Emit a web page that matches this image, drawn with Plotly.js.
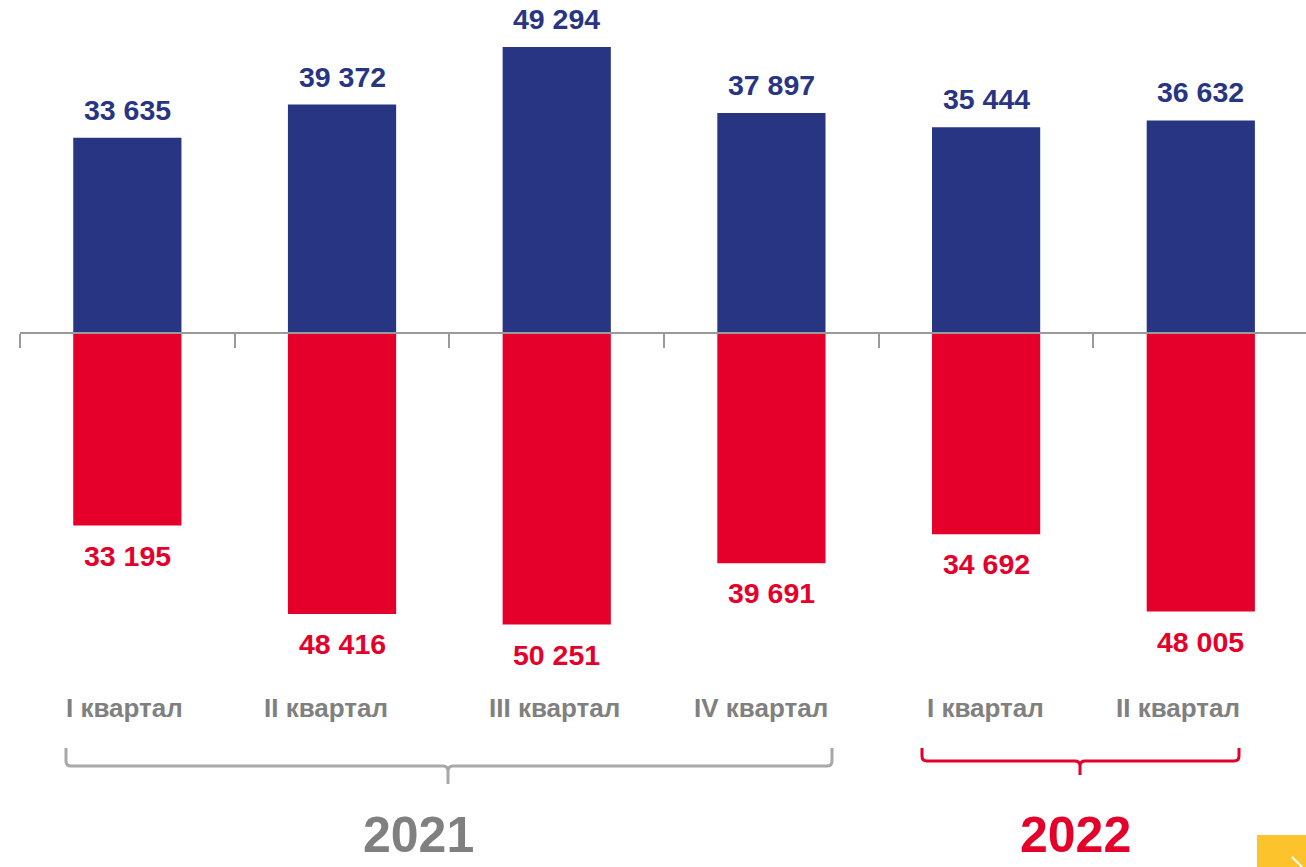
<!DOCTYPE html>
<html>
<head>
<meta charset="utf-8">
<script src="https://cdn.plot.ly/plotly-3.0.1.min.js"></script>
<style>html,body{margin:0;padding:0;background:#fff;}#chart{width:1306px;height:867px;}</style>
</head>
<body>
<div id="chart"></div>
<script>
// ---- data ----
var categories = ['2021 Q1', '2021 Q2', '2021 Q3', '2021 Q4', '2022 Q1', '2022 Q2'];
var quarterLabels = ['I квартал', 'II квартал', 'III квартал', 'IV квартал', 'I квартал', 'II квартал'];
var inflow = [33635, 39372, 49294, 37897, 35444, 36632];
var outflow = [33195, 48416, 50251, 39691, 34692, 48005];
var years = ['2021', '2022'];

// ---- style ----
var W = 1306, H = 867, ML = 20;
var BLUE = '#283583', RED = '#e4002b', GREY = '#808080', BRACE_GREY = '#a8a8a8';
var FONT = 'Arial, "Liberation Sans", sans-serif';
var labelShift = [-3, -16, -2, -10, -1, -23];
var yMin = -92037, yMax = 57394;

function fmt(v) { return String(v).replace(/\B(?=(\d{3})+(?!\d))/g, ' '); }
function X(px) { return (px - ML) / (W - ML); }
function Y(py) { return 1 - py / H; }

var traces = [
  { type: 'bar', x: categories, y: inflow, marker: { color: BLUE }, hoverinfo: 'skip', name: 'in' },
  { type: 'bar', x: categories, y: outflow.map(function (v) { return -v; }), marker: { color: RED }, hoverinfo: 'skip', name: 'out' }
];

var annotations = [];
categories.forEach(function (c, i) {
  annotations.push({ x: c, y: inflow[i], xref: 'x', yref: 'y', text: fmt(inflow[i]), showarrow: false,
    xanchor: 'center', yanchor: 'middle', yshift: 28, font: { family: FONT, size: 28.5, color: BLUE, weight: 'bold' } });
  annotations.push({ x: c, y: -outflow[i], xref: 'x', yref: 'y', text: fmt(outflow[i]), showarrow: false,
    xanchor: 'center', yanchor: 'middle', yshift: -30, font: { family: FONT, size: 28.5, color: RED, weight: 'bold' } });
  annotations.push({ x: c, y: Y(708), xref: 'x', yref: 'paper', text: quarterLabels[i], showarrow: false,
    xanchor: 'center', xshift: labelShift[i], yanchor: 'middle', font: { family: FONT, size: 26, color: GREY, weight: 'bold' } });
});
annotations.push({ x: X(418), y: Y(835), xref: 'paper', yref: 'paper', text: years[0], showarrow: false,
  xanchor: 'center', yanchor: 'middle', font: { family: FONT, size: 50, color: GREY, weight: 'bold' } });
annotations.push({ x: X(1075), y: Y(835), xref: 'paper', yref: 'paper', text: years[1], showarrow: false,
  xanchor: 'center', yanchor: 'middle', font: { family: FONT, size: 50, color: RED, weight: 'bold' } });

function bracePath(x0, x1, xm, yTop, yLine, yStem, r) {
  var p = 'M' + X(x0) + ',' + Y(yTop) +
    ' L' + X(x0) + ',' + Y(yLine - r) +
    ' Q' + X(x0) + ',' + Y(yLine) + ' ' + X(x0 + r) + ',' + Y(yLine) +
    ' L' + X(xm - r) + ',' + Y(yLine) +
    ' Q' + X(xm) + ',' + Y(yLine) + ' ' + X(xm) + ',' + Y(yLine + r) +
    ' L' + X(xm) + ',' + Y(yStem) +
    ' M' + X(xm) + ',' + Y(yLine + r) +
    ' Q' + X(xm) + ',' + Y(yLine) + ' ' + X(xm + r) + ',' + Y(yLine) +
    ' L' + X(x1 - r) + ',' + Y(yLine) +
    ' Q' + X(x1) + ',' + Y(yLine) + ' ' + X(x1) + ',' + Y(yLine - r) +
    ' L' + X(x1) + ',' + Y(yTop);
  return p;
}

var shapes = [
  { type: 'path', xref: 'paper', yref: 'paper', path: bracePath(66, 832, 448, 748, 766, 784, 5),
    line: { color: BRACE_GREY, width: 3 } },
  { type: 'path', xref: 'paper', yref: 'paper', path: bracePath(922, 1239, 1080, 748, 761, 775, 5),
    line: { color: RED, width: 3 } },
  { type: 'rect', xref: 'paper', yref: 'paper', x0: X(1257), x1: X(1306), y0: Y(867), y1: Y(835),
    fillcolor: '#fcc32c', line: { width: 0 } },
  { type: 'line', xref: 'paper', yref: 'paper', x0: X(1292), x1: X(1302), y0: Y(857), y1: Y(867),
    line: { color: '#ffffff', width: 2 } }
];

var layout = {
  width: W, height: H,
  margin: { l: ML, r: 0, t: 0, b: 0, pad: 0 },
  paper_bgcolor: '#ffffff', plot_bgcolor: '#ffffff',
  showlegend: false,
  barmode: 'relative',
  bargap: 0.496,
  font: { family: FONT },
  xaxis: {
    type: 'category', anchor: 'free', position: (0 - yMin) / (yMax - yMin),
    range: [-0.5, 5.49],
    showline: true, linecolor: '#9a9a9a', linewidth: 2,
    ticks: 'outside', ticklen: 14, tickwidth: 2, tickcolor: '#9a9a9a', tickson: 'boundaries',
    showticklabels: false, showgrid: false, zeroline: false, fixedrange: true
  },
  yaxis: { range: [yMin, yMax], visible: false, showgrid: false, zeroline: false, fixedrange: true },
  annotations: annotations,
  shapes: shapes
};

Plotly.newPlot('chart', traces, layout, { displayModeBar: false, staticPlot: true });
</script>
</body>
</html>
